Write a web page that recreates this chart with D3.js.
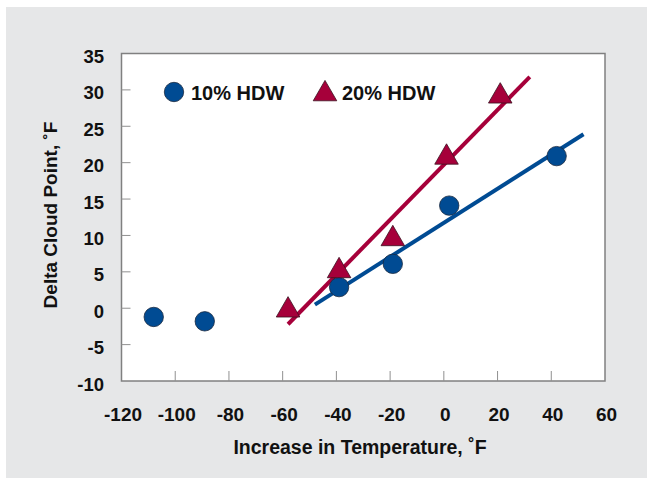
<!DOCTYPE html>
<html><head><meta charset="utf-8">
<script src="https://cdn.jsdelivr.net/npm/d3@7"></script>
<style>body{margin:0;background:#fff}svg{display:block}text{font-family:"Liberation Sans",Arial,sans-serif;font-weight:bold;fill:#111}</style>
</head><body><svg id="c" width="647" height="480"></svg>
<script>
const xTicks = [-120,-100,-80,-60,-40,-20,0,20,40,60];
const yTicks = [35,30,25,20,15,10,5,0,-5,-10];
const hdw10X = [-108,-89,-39,-19,2,42];
const hdw10Y = [-1.2,-1.8,2.9,6.1,14.1,20.9];
const hdw20X = [-58,-39,-19,1,21];
const hdw20Y = [0,5.4,9.8,21.0,29.4];
const fit10X = [-48,52]; const fit10Y = [0.5,23.9];
const fit20X = [-58,32]; const fit20Y = [-2.2,31.8];
const seriesNames = ["10% HDW","20% HDW"];

const blue = "#004b93", red = "#a6003a";
const svg = d3.select("#c");
svg.append("rect").attr("x",6).attr("y",7).attr("width",641).attr("height",471).attr("fill","#e6e7e8");
const L=121.5,R=605,T=53.5,B=381;
const x = d3.scaleLinear().domain([-120,60]).range([L,R]);
const y = d3.scaleLinear().domain([-10,35]).range([B,T]);
svg.append("rect").attr("x",L).attr("y",T).attr("width",R-L).attr("height",B-T).attr("fill","#fff").attr("stroke","#808080").attr("stroke-width",1.5);
// ticks inside
svg.append("g").selectAll("line").data(yTicks.filter(d=>d>-10&&d<35)).join("line")
 .attr("x1",L).attr("x2",L+9).attr("y1",d=>y(d)).attr("y2",d=>y(d)).attr("stroke","#909090").attr("stroke-width",1);
svg.append("g").selectAll("line").data(xTicks.filter(d=>d>-120&&d<60)).join("line")
 .attr("x1",d=>x(d)).attr("x2",d=>x(d)).attr("y1",B).attr("y2",B-10).attr("stroke","#909090").attr("stroke-width",1);
svg.append("g").selectAll("text").data(yTicks).join("text")
 .attr("x",104).attr("y",d=>y(d)+9.5).attr("text-anchor","end").attr("font-size",18.5).text(d=>d);
svg.append("g").selectAll("text").data(xTicks).join("text")
 .attr("x",d=>x(d)+1.5).attr("y",421).attr("text-anchor","middle").attr("font-size",19).text(d=>d);
svg.append("text").attr("x",360).attr("y",454).attr("text-anchor","middle").attr("font-size",19.5).text("Increase in Temperature, ˚F");
svg.append("text").attr("transform","translate(57,215) rotate(-90)").attr("text-anchor","middle").attr("font-size",19).text("Delta Cloud Point, ˚F");
// fit lines
const line = d3.line().x(d=>x(d[0])).y(d=>y(d[1]));
svg.append("path").attr("d",line(d3.zip(fit10X,fit10Y))).attr("stroke",blue).attr("stroke-width",4).attr("fill","none");
svg.append("path").attr("d",line(d3.zip(fit20X,fit20Y))).attr("stroke",red).attr("stroke-width",4).attr("fill","none");
const tri = d3.symbol().type(d3.symbolTriangle).size(240);
svg.append("g").selectAll("circle").data(d3.zip(hdw10X,hdw10Y)).join("circle")
 .attr("cx",d=>x(d[0])).attr("cy",d=>y(d[1])).attr("r",9.7).attr("fill",blue).attr("stroke","#1a2a40").attr("stroke-width",0.8);
svg.append("g").selectAll("path").data(d3.zip(hdw20X,hdw20Y)).join("path")
 .attr("d",tri).attr("transform",d=>`translate(${x(d[0])},${y(d[1])+2})`).attr("fill",red).attr("stroke","#3a1020").attr("stroke-width",0.8);
// legend
svg.append("circle").attr("cx",174).attr("cy",92).attr("r",9.7).attr("fill",blue).attr("stroke","#1a2a40").attr("stroke-width",0.8);
svg.append("text").attr("x",191).attr("y",99.5).attr("font-size",20).text(seriesNames[0]);
svg.append("path").attr("d",tri).attr("transform","translate(325,94)").attr("fill",red).attr("stroke","#3a1020").attr("stroke-width",0.8);
svg.append("text").attr("x",342).attr("y",99.5).attr("font-size",20).text(seriesNames[1]);
</script></body></html>
